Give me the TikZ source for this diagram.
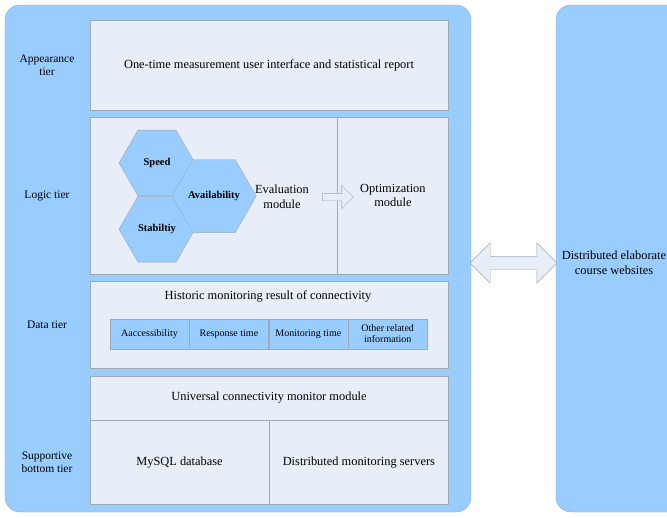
\documentclass[tikz,border=0pt]{standalone}
\usepackage{fontspec}
\setmainfont{Liberation Serif}
\usetikzlibrary{shapes,arrows,positioning,calc,fit}
\definecolor{tierblue}{RGB}{153,204,255}
\definecolor{boxgray}{RGB}{232,238,248}
\definecolor{linegray}{RGB}{160,168,178}

\begin{document}
\begin{tikzpicture}[x=1pt,y=-1pt,
  panel/.style={fill=tierblue,draw=tierblue!85!black,rounded corners=15pt},
  box/.style={draw=linegray,fill=boxgray,inner sep=0pt,align=center,font=\fontsize{12.4}{14.5}\selectfont},
  tier/.style={align=center,font=\fontsize{11.5}{13}\selectfont},
  plain/.style={align=center,font=\fontsize{12.4}{14.5}\selectfont},
  hexa/.style={regular polygon,regular polygon sides=6,minimum size=76pt,inner sep=0pt,draw=linegray,fill=tierblue,font=\fontsize{10.5}{12}\selectfont\bfseries},
  cell/.style={draw=linegray,fill=tierblue,minimum width=79pt,minimum height=30pt,inner sep=0pt,align=center,font=\fontsize{10}{11}\selectfont},
  hollow/.style={draw=linegray,fill=boxgray}]
  \useasboundingbox (0,0) rectangle (667,517);
  \draw[panel] (5,5) rectangle (471,512);
  \draw[panel] (667,5) -- (556,5) -- (556,512) -- (667,512);

  \node[box,minimum width=358pt,minimum height=90pt] (appear) at (269,65) {One-time measurement user interface and statistical report};
  \node[tier] (appeart) at (47,65) {Appearance\\tier};

  \node[box,minimum width=247pt,minimum height=157pt] (evalbox) at (213.5,195.5) {};
  \node[box,minimum width=111pt,minimum height=157pt,right=0pt of evalbox] (optim) {Optimization\\module};
  \node[tier] (logict) at (47,196) {Logic tier};
  \node[hexa] (speed) at (157,163) {Speed};
  \node[hexa,below=0pt of speed] (stab) {Stabiltiy};
  \node[hexa] (avail) at ($(speed)!0.5!(stab)+(57,0)$) {Availability};
  \node[plain] (evalm) at (282,197) {Evaluation\\module};
  \node[hollow,single arrow,single arrow head extend=8pt,minimum height=31pt,inner sep=3.5pt] (evalarr) at (336,197) {};

  \node[box,minimum width=358pt,minimum height=87pt] (databox) at (269,324.5) {};
  \node[plain] (histo) at (268,296) {Historic monitoring result of connectivity};
  \node[cell] (acc) at (149.5,334) {Aaccessibility};
  \node[cell,right=0pt of acc] (resp) {Response time};
  \node[cell,right=0pt of resp] (montime) {Monitoring time};
  \node[cell,right=0pt of montime] (other) {Other related\\information};
  \node[tier] (datat) at (47,325) {Data tier};

  \node[box,minimum width=358pt,minimum height=44pt] (univ) at (269,398) {Universal connectivity monitor module};
  \node[box,minimum width=179pt,minimum height=84pt,anchor=north west] (mysql) at (univ.south west) {MySQL database};
  \node[box,minimum width=179pt,minimum height=84pt,right=0pt of mysql] (servers) {Distributed monitoring servers};
  \node[tier] (supt) at (47,462) {Supportive\\bottom tier};

  \node[hollow,double arrow,double arrow head extend=13.5pt,minimum height=87pt,inner sep=6.5pt] (link) at (513.5,263) {};
  \node[plain] (sites) at (614,263) {Distributed elaborate\\course websites};
\end{tikzpicture}
\end{document}
